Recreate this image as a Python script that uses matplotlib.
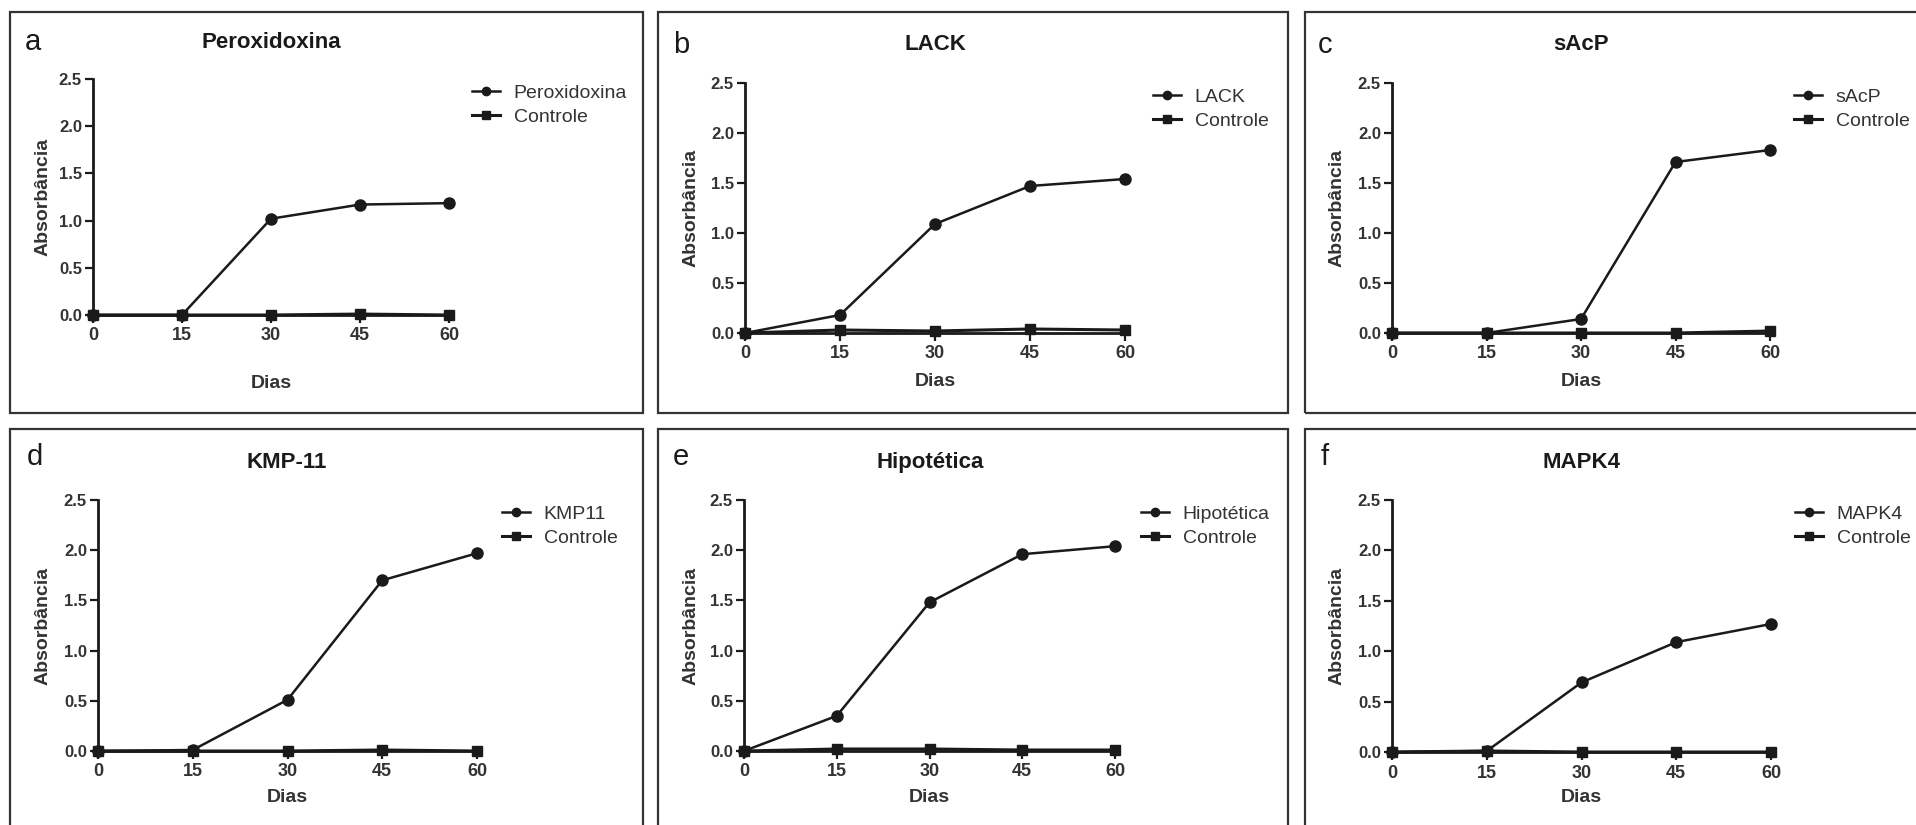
import matplotlib
matplotlib.use("Agg")
import matplotlib.pyplot as plt
from matplotlib.patches import Rectangle

plt.rcParams['font.family'] = ['Liberation Sans', 'DejaVu Sans']

W, H = 1916, 825

dias = [0, 15, 30, 45, 60]
x_ticks = [0, 15, 30, 45, 60]
y_ticks = [0.0, 0.5, 1.0, 1.5, 2.0, 2.5]
y_ticklabels = ["0.0", "0.5", "1.0", "1.5", "2.0", "2.5"]

letters = ["a", "b", "c", "d", "e", "f"]
titles = ["Peroxidoxina", "LACK", "sAcP", "KMP-11", "Hipotética", "MAPK4"]
series_names = ["Peroxidoxina", "LACK", "sAcP", "KMP11", "Hipotética", "MAPK4"]
control_name = "Controle"

peroxidoxina = [0.0, 0.0, 1.02, 1.17, 1.185]
lack = [0.0, 0.18, 1.09, 1.47, 1.54]
sacp = [0.0, 0.0, 0.14, 1.71, 1.83]
kmp11 = [0.0, 0.01, 0.51, 1.70, 1.97]
hipotetica = [0.0, 0.35, 1.48, 1.96, 2.04]
mapk4 = [0.0, 0.01, 0.69, 1.09, 1.27]

ctrl_peroxidoxina = [0.0, 0.0, 0.0, 0.01, 0.0]
ctrl_lack = [0.0, 0.03, 0.02, 0.04, 0.03]
ctrl_sacp = [0.0, 0.0, 0.0, 0.0, 0.02]
ctrl_kmp11 = [0.0, 0.0, 0.0, 0.01, 0.0]
ctrl_hipotetica = [0.0, 0.02, 0.02, 0.01, 0.01]
ctrl_mapk4 = [0.0, 0.01, 0.0, 0.0, 0.0]

values = [peroxidoxina, lack, sacp, kmp11, hipotetica, mapk4]
controls = [ctrl_peroxidoxina, ctrl_lack, ctrl_sacp, ctrl_kmp11, ctrl_hipotetica, ctrl_mapk4]

# layout (pixels, y from top)
axes_px = [
    (93, 449, 79, 315),
    (745, 1125, 83, 333),
    (1392, 1770, 83, 333),
    (98, 477, 500, 751),
    (744, 1115, 500, 751),
    (1392, 1771, 500, 752),
]
boxes_px = [
    (10, 12, 643, 413),
    (658, 12, 1288, 413),
    (1305, 12, 1940, 413),
    (10, 429, 643, 860),
    (658, 429, 1288, 860),
    (1305, 429, 1940, 860),
]
title_px = [(271, 43), (935, 45), (1581, 45), (287, 463), (930, 463), (1581, 463)]
letter_px = [(33, 42), (681, 45), (1325, 45), (35, 457), (681, 457), (1325, 457)]
ylabel_px = [43, 691, 1337, 43, 691, 1337]
dias_py = [383, 382, 382, 798, 798, 798]
legend_px = [(472, 84), (1153, 88), (1794, 88), (502, 505), (1141, 505), (1795, 505)]

def fx(x):
    return x / W

def fy(y):
    return 1 - y / H

fig = plt.figure(figsize=(W / 100, H / 100), dpi=100)
fig.patch.set_facecolor("white")

ink = "#1a1a1a"
grey = "#333333"

for i in range(6):
    bx0, by0, bx1, by1 = boxes_px[i]
    fig.patches.append(Rectangle((fx(bx0), fy(by1)), fx(bx1 - bx0), (by1 - by0) / H,
                                 transform=fig.transFigure, fill=False,
                                 edgecolor=grey, linewidth=1.6, zorder=0))

    x0, x1, yt, yb = axes_px[i]
    ax = fig.add_axes([fx(x0), fy(yb), fx(x1 - x0), (yb - yt) / H])
    ax.set_facecolor("none")
    ax.plot(dias, values[i], color=ink, marker="o", markersize=8, linewidth=1.8,
            clip_on=False, zorder=4, label=series_names[i])
    ax.plot(dias, controls[i], color=ink, marker="s", markersize=7, linewidth=2.2,
            clip_on=False, zorder=3, label=control_name)
    ax.set_xlim(0, 60)
    ax.set_ylim(0, 2.5)
    ax.set_xticks(x_ticks)
    ax.set_xticklabels([str(t) for t in x_ticks])
    ax.set_yticks(y_ticks)
    ax.set_yticklabels(y_ticklabels)
    for s in ["top", "right"]:
        ax.spines[s].set_visible(False)
    for s in ["left", "bottom"]:
        ax.spines[s].set_linewidth(2.0)
        ax.spines[s].set_color(ink)
    ax.tick_params(axis="both", direction="out", length=6, width=1.6, color=ink,
                   labelcolor=grey)
    ax.tick_params(axis="x", labelsize=13, pad=3)
    ax.tick_params(axis="y", labelsize=12, pad=2)
    for lab in ax.get_xticklabels() + ax.get_yticklabels():
        lab.set_fontweight("bold")

    leg = ax.legend(loc="upper left", bbox_to_anchor=(fx(legend_px[i][0]), fy(legend_px[i][1])),
                    bbox_transform=fig.transFigure, frameon=False, borderpad=0,
                    borderaxespad=0, handlelength=1.45, handletextpad=0.7,
                    labelspacing=0.35, fontsize=14, markerscale=0.75)
    for t in leg.get_texts():
        t.set_color(grey)

    tx, ty = title_px[i]
    fig.text(fx(tx), fy(ty), titles[i], ha="center", va="center", fontsize=16,
             fontweight="bold", color=ink)
    lx, ly = letter_px[i]
    fig.text(fx(lx), fy(ly), letters[i], ha="center", va="center", fontsize=21,
             color=ink)
    fig.text(fx(ylabel_px[i]), fy((yt + yb) / 2), "Absorbância", ha="center", va="center",
             rotation=90, fontsize=14, fontweight="bold", color=grey)
    fig.text(fx((x0 + x1) / 2), fy(dias_py[i]), "Dias", ha="center", va="center",
             fontsize=14, fontweight="bold", color=grey)

fig.savefig("out.png", dpi=100, facecolor="white")
